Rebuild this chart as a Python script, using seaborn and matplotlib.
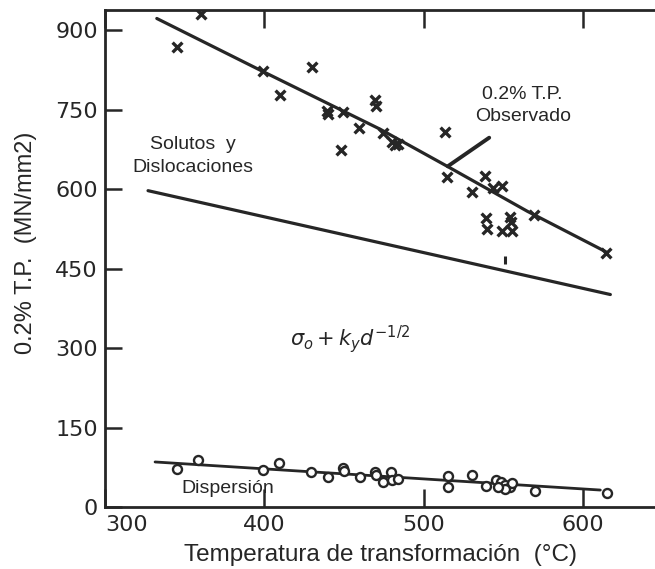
import matplotlib
matplotlib.use("Agg")
import matplotlib.pyplot as plt
import seaborn as sns
import pandas as pd

# ---- data ----
cross_temp = [360, 345, 399, 430, 410, 439, 440, 449, 469.5, 470, 459.5, 448, 474.5,
              480, 482, 484, 513.4, 514.7, 538.5, 530.4, 543.6, 549.2, 539.2, 539.8,
              554, 554.6, 549, 555.5, 569.3, 614.5]
cross_ys = [930, 868, 822, 830, 777, 747, 741, 745, 769, 756, 716, 673, 705,
            688, 684, 686, 707, 622, 624, 594, 603, 605, 546, 524,
            548, 537, 520, 520, 552, 480]

odd_temp = [551]
odd_ys = [467]

circle_temp = [345, 358.4, 399, 409, 429, 440, 449, 450, 460, 469.5, 470, 474.5,
               479.5, 480, 484, 515, 515, 530.4, 539.2, 545, 548.6, 551, 554,
               555.5, 551, 546.7, 569.9, 615]
circle_ys = [72, 89, 70, 83, 66, 57, 74, 68, 57, 66, 60, 47,
             66, 51, 53, 59, 38, 60, 40, 51, 47, 42, 38,
             45, 34, 38, 30, 26]

obs_line_temp = [332.5, 399, 472.6, 514.7, 565, 614]
obs_line_ys = [922, 822, 713, 643, 558, 482]

sol_line_temp = [327, 617]
sol_line_ys = [597, 401]

disp_line_temp = [331.4, 610.7]
disp_line_ys = [85, 32]

x_ticks = [300, 400, 500, 600]
y_ticks = [0, 150, 300, 450, 600, 750, 900]

# ---- styling ----
sns.set_style("white")
plt.rcParams['font.family'] = ['Liberation Sans', 'DejaVu Sans']
INK = "#262626"

fig = plt.figure(figsize=(6.55, 5.69), dpi=100)
ax = fig.add_axes([105 / 655, 62 / 569, 550 / 655, 497 / 569])

df_cross = pd.DataFrame({"T": cross_temp, "Y": cross_ys})
df_circ = pd.DataFrame({"T": circle_temp, "Y": circle_ys})

sns.lineplot(x=obs_line_temp, y=obs_line_ys, ax=ax, color=INK, lw=2.3, sort=False)
sns.lineplot(x=sol_line_temp, y=sol_line_ys, ax=ax, color=INK, lw=2.3, sort=False)
sns.lineplot(x=disp_line_temp, y=disp_line_ys, ax=ax, color=INK, lw=2.0, sort=False)

sns.scatterplot(data=df_cross, x="T", y="Y", ax=ax, marker="x", s=50,
                color=INK, linewidth=2.4, zorder=4)
sns.scatterplot(x=odd_temp, y=odd_ys, ax=ax, marker="|", s=40,
                color=INK, linewidth=2.2, zorder=4)
sns.scatterplot(data=df_circ, x="T", y="Y", ax=ax, marker="o", s=42,
                facecolor="white", edgecolor=INK, linewidth=1.7, zorder=4)

ax.set_xlim(300, 645)
ax.set_ylim(0, 938)
ax.set_xticks(x_ticks)
ax.set_yticks(y_ticks)
ax.set_xticklabels([str(v) for v in x_ticks], fontsize=16, color=INK,
                   family=['DejaVu Sans'])
ax.set_yticklabels([str(v) for v in y_ticks], fontsize=16, color=INK,
                   family=['DejaVu Sans'])
ax.get_xticklabels()[0].set_ha('left')

ax.tick_params(axis='x', direction='in', length=13, width=1.8, color=INK,
               top=True, bottom=True, pad=6)
ax.tick_params(axis='y', direction='in', length=12, width=1.8, color=INK,
               left=True, pad=5)

for side in ['left', 'bottom', 'top']:
    ax.spines[side].set_visible(True)
    ax.spines[side].set_linewidth(2.0)
    ax.spines[side].set_color(INK)
ax.spines['right'].set_visible(False)

ax.set_xlabel("Temperatura de transformación  (°C)", fontsize=17.5, color=INK, labelpad=6)
ax.set_ylabel("0.2% T.P.  (MN/mm2)", fontsize=17, color=INK)
ax.yaxis.set_label_coords(-0.124, 0.531)

ax.text(562, 758, "0.2% T.P.\nObservado", ha='center', va='center', fontsize=14,
        color=INK, linespacing=1.35)
ax.annotate("", xy=(515, 643), xytext=(541, 697),
            arrowprops=dict(arrowstyle='-', lw=2.8, color=INK, shrinkA=0, shrinkB=0))
ax.text(355, 662, "Solutos  y\nDislocaciones", ha='center', va='center', fontsize=14,
        color=INK, linespacing=1.45)
ax.text(454, 318, r"$\sigma_o + k_y d^{-1/2}$", ha='center', va='center', fontsize=15,
        color=INK)
ax.text(377, 34, "Dispersión", ha='center', va='center', fontsize=14, color=INK)

fig.savefig("out.png", dpi=100)
